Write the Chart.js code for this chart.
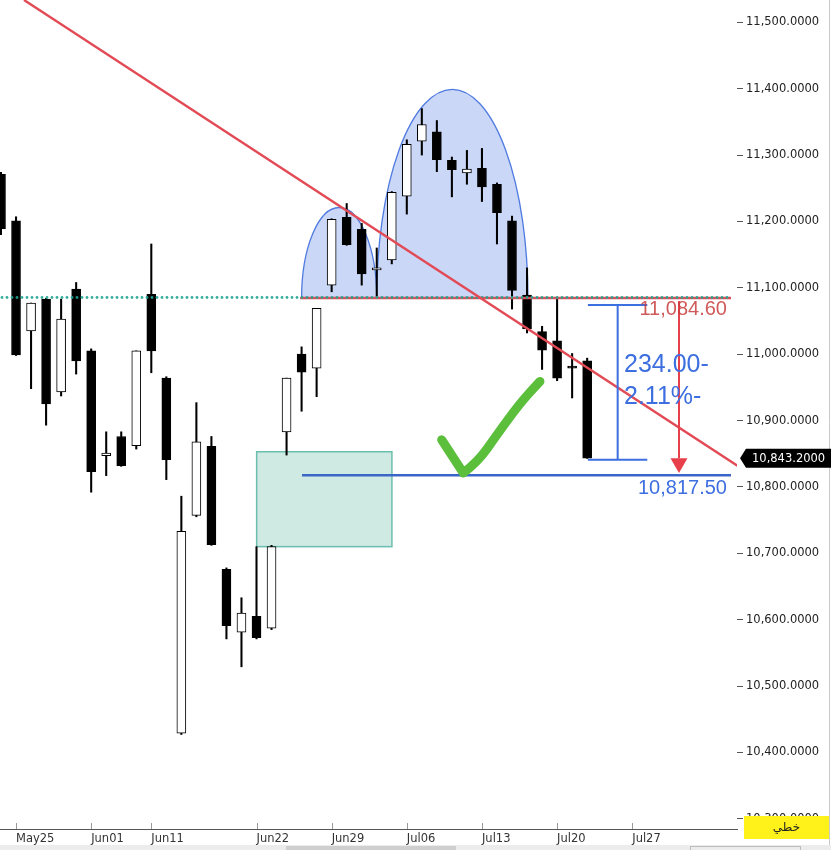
<!DOCTYPE html>
<html><head><meta charset="utf-8">
<script src="https://cdn.jsdelivr.net/npm/chart.js@4"></script>
<style>html,body{margin:0;padding:0;background:#fff;}canvas{display:block;}</style>
</head><body>
<canvas id="c" width="831" height="850"></canvas>
<script>
// ---------- data ----------
const dates = ['May22','May25','May26','May27','May28','May29','Jun01','Jun02','Jun03','Jun04','Jun11','Jun12','Jun15','Jun16','Jun17','Jun18','Jun19','Jun22','Jun23','Jun24','Jun25','Jun26','Jun29','Jun30','Jul01','Jul02','Jul03','Jul06','Jul07','Jul08','Jul09','Jul10','Jul13','Jul14','Jul15','Jul16','Jul17','Jul20','Jul21','Jul22'];
const futureDates = ['Jul23','Jul24','Jul27','Jul28','Jul29','Jul30','Jul31','Aug03','Aug04','Aug05'];
const opens  = [11271,11201,11035,11083,10943,11098,11005,10847,10876,10862,11090,10964,10429,10757,10861,10676,10581,10605,10587,10883,11000,10979,11104,11206,11188,11127,11142,11238,11321,11335,11292,11273,11280,11256,11201,11089,11034,11020,10982,10990];
const highs  = [11274,11207,11077,11084,11083,11108,11008,10883,10883,11005,11166,10966,10786,10927,10876,10678,10633,10710,10712,10964,11011,11069,11204,11227,11197,11160,11245,11323,11370,11352,11297,11307,11310,11258,11208,11130,11042,11084,11001,10994];
const lows   = [11180,10998,10948,10893,10937,10970,10792,10817,10831,10857,10972,10811,10427,10755,10712,10571,10529,10571,10585,10848,10914,10936,11094,11164,11104,11084,11136,11211,11300,11275,11237,11256,11230,11166,11068,11032,10977,10960,10934,10843];
const closes = [11189,10999,11077,10925,11053,10990,10823,10851,10832,11005,11005,10841,10733,10868,10713,10591,10610,10573,10710,10964,10973,11069,11203,11165,11121,11130,11244,11316,11346,11293,11278,11279,11252,11213,11096,11038,11006,10964,10979,10843.2];
const axisLabels = ['May25','Jun01','Jun11','Jun22','Jun29','Jul06','Jul13','Jul20','Jul27'];
const yTicks = [10300,10400,10500,10600,10700,10800,10900,11000,11100,11200,11300,11400,11500];

// annotation values (data space)
const resistance = 11084.6;
const target = 10817.5;
const trendLine = [[1.53, 11533.6], [49.0, 10832]];
const smallDome = [20.0, 25.0, 11221];
const bigDome = [25.0, 35.06, 11399];
const zoneBox = [17.01, 26.01, 10853, 10710];
const lineStartRes = 19.9, lineStartTarget = 20.03, lineEnd = 48.57;
const bracket = [39.05, 43.0, 41.03, 11074, 10841];
const measureDiff = 234.00, measurePct = 2.11;
const measureText = [41.45, 10984, 10936];
const arrow = [45.11, 11080, 10843, 10821];
const labelRight = 48.3;
const checkMark = [[29.32,10871],[30.76,10821],[31.74,10838],[32.98,10878],[34.53,10926],[35.86,10959]];

// ---------- helpers ----------
const allDates = dates.concat(futureDates);
const tickIdx = axisLabels.map(l => allDates.indexOf(l));
function fmtNum(v, d) { const p = v.toFixed(d).split('.'); return p[0].replace(/\B(?=(\d{3})+$)/g, ',') + (p[1] ? '.' + p[1] : ''); }

const bodyData = dates.map((d, i) => ({x: i, y: [opens[i], closes[i]]}));
const wickData = dates.map((d, i) => ({x: i, y: [lows[i], highs[i]]}));
const bodyColors = dates.map((d, i) => closes[i] >= opens[i] ? '#ffffff' : '#000000');

const FONT = 'DejaVu Sans';

const annot = {
  id: 'annot',
  beforeDatasetsDraw(chart) {
    const ctx = chart.ctx, xs = chart.scales.x, ys = chart.scales.y;
    const X = v => xs.getPixelForValue(v), Y = v => ys.getPixelForValue(v);
    const ca = chart.chartArea;
    ctx.save();
    ctx.beginPath(); ctx.rect(ca.left, ca.top, ca.right - ca.left, ca.bottom - ca.top); ctx.clip();
    // zone box
    const bx0 = X(zoneBox[0]), bx1 = X(zoneBox[1]), by0 = Y(zoneBox[2]), by1 = Y(zoneBox[3]);
    ctx.fillStyle = '#cfe9e3';
    ctx.fillRect(bx0, by0, bx1 - bx0, by1 - by0);
    ctx.strokeStyle = '#6cbfae'; ctx.lineWidth = 1.5;
    ctx.strokeRect(bx0, by0, bx1 - bx0, by1 - by0);
    // domes
    const base = Y(resistance);
    [smallDome, bigDome].forEach(d => {
      const l = X(d[0]), r = X(d[1]);
      const cx = (l + r) / 2, rx = (r - l) / 2, ry = base - Y(d[2]);
      ctx.beginPath();
      ctx.ellipse(cx, base, rx, ry, 0, Math.PI, 2 * Math.PI);
      ctx.closePath();
      ctx.fillStyle = '#cad7f7'; ctx.fill();
      ctx.beginPath();
      ctx.ellipse(cx, base, rx, ry, 0, Math.PI, 2 * Math.PI);
      ctx.strokeStyle = '#4f7be0'; ctx.lineWidth = 1.3; ctx.stroke();
    });
    ctx.restore();
  },
  afterDatasetsDraw(chart) {
    const ctx = chart.ctx, xs = chart.scales.x, ys = chart.scales.y;
    const X = v => xs.getPixelForValue(v), Y = v => ys.getPixelForValue(v);
    const ca = chart.chartArea;
    ctx.save();
    ctx.beginPath(); ctx.rect(ca.left, ca.top, ca.right - ca.left, ca.bottom - ca.top); ctx.clip();
    // red resistance line
    const ry = Y(resistance);
    ctx.strokeStyle = '#e24a55'; ctx.lineWidth = 2.5;
    ctx.beginPath(); ctx.moveTo(X(lineStartRes), ry); ctx.lineTo(X(lineEnd), ry); ctx.stroke();
    // teal dotted line
    ctx.fillStyle = 'rgba(35,165,145,0.9)';
    for (let x = X(xs.min) + 2; x < X(lineEnd); x += 5) {
      ctx.beginPath(); ctx.arc(x, ry - 0.5, 1.4, 0, Math.PI * 2); ctx.fill();
    }
    // blue target line
    const ty = Y(target);
    ctx.strokeStyle = '#3a66c8'; ctx.lineWidth = 2.5;
    ctx.beginPath(); ctx.moveTo(X(lineStartTarget), ty); ctx.lineTo(X(lineEnd), ty); ctx.stroke();
    // trend line
    ctx.strokeStyle = '#e24a55'; ctx.lineWidth = 2.4;
    ctx.beginPath(); ctx.moveTo(X(trendLine[0][0]), Y(trendLine[0][1])); ctx.lineTo(X(trendLine[1][0]), Y(trendLine[1][1])); ctx.stroke();
    // measurement bracket
    ctx.strokeStyle = '#3d6fe0'; ctx.lineWidth = 2;
    const b0 = X(bracket[0]), b1 = X(bracket[1]), bm = X(bracket[2]), bt = Y(bracket[3]), bb = Y(bracket[4]);
    ctx.beginPath();
    ctx.moveTo(b0, bt); ctx.lineTo(b1, bt);
    ctx.moveTo(bm, bt); ctx.lineTo(bm, bb);
    ctx.moveTo(b0, bb); ctx.lineTo(b1, bb);
    ctx.stroke();
    // red arrow
    const ax = X(arrow[0]);
    ctx.strokeStyle = '#e8404a'; ctx.lineWidth = 2;
    ctx.beginPath(); ctx.moveTo(ax, Y(arrow[1])); ctx.lineTo(ax, Y(arrow[2])); ctx.stroke();
    ctx.fillStyle = '#e8404a';
    ctx.beginPath(); ctx.moveTo(ax - 8.5, Y(arrow[2])); ctx.lineTo(ax + 8.5, Y(arrow[2])); ctx.lineTo(ax, Y(arrow[3])); ctx.closePath(); ctx.fill();
    // texts
    ctx.font = '20px "Liberation Sans"';
    ctx.textAlign = 'right'; ctx.textBaseline = 'middle';
    ctx.fillStyle = 'rgba(200,60,60,0.85)';
    ctx.fillText(fmtNum(resistance, 2), X(labelRight), ry + 11);
    ctx.fillStyle = '#3d6fe0';
    ctx.fillText(fmtNum(target, 2), X(labelRight), ty + 13);
    ctx.font = '25px "Liberation Sans"';
    ctx.textAlign = 'left';
    ctx.fillStyle = '#3d6fe0';
    ctx.fillText(measureDiff.toFixed(2) + '-', X(measureText[0]), Y(measureText[1]));
    ctx.fillText(measurePct.toFixed(2) + '%-', X(measureText[0]), Y(measureText[2]));
    // green check mark
    ctx.strokeStyle = '#5cbf3c'; ctx.lineWidth = 9; ctx.lineCap = 'round'; ctx.lineJoin = 'round';
    const pts = checkMark.map(p => [X(p[0]), Y(p[1])]);
    ctx.beginPath(); ctx.moveTo(pts[0][0], pts[0][1]); ctx.lineTo(pts[1][0], pts[1][1]);
    for (let i = 2; i < pts.length - 1; i++) {
      const mx = (pts[i][0] + pts[i + 1][0]) / 2, my = (pts[i][1] + pts[i + 1][1]) / 2;
      ctx.quadraticCurveTo(pts[i][0], pts[i][1], mx, my);
    }
    ctx.lineTo(pts[pts.length - 1][0], pts[pts.length - 1][1]);
    ctx.stroke();
    ctx.restore();
  },
  afterDraw(chart) {
    const ctx = chart.ctx, xs = chart.scales.x, ys = chart.scales.y;
    const ca = chart.chartArea;
    ctx.save();
    // bottom band
    ctx.fillStyle = '#ececec'; ctx.fillRect(0, 845, chart.width, 5);
    ctx.fillStyle = '#cfcfcf'; ctx.fillRect(286, 846, 170, 4);
    ctx.strokeStyle = '#bdbdbd'; ctx.lineWidth = 1; ctx.strokeRect(690.5, 846.5, 110, 6);
    // x axis line and upward ticks
    ctx.strokeStyle = '#555'; ctx.lineWidth = 1;
    ctx.beginPath(); ctx.moveTo(0, Math.round(ca.bottom) + 0.5); ctx.lineTo(ca.right + 1, Math.round(ca.bottom) + 0.5); ctx.stroke();
    ctx.strokeStyle = '#999';
    tickIdx.forEach(i => {
      const x = Math.round(xs.getPixelForValue(i)) + 0.5;
      ctx.beginPath(); ctx.moveTo(x, ca.bottom - 6); ctx.lineTo(x, ca.bottom); ctx.stroke();
    });
    // right border
    ctx.strokeStyle = '#c8c8c8';
    ctx.beginPath(); ctx.moveTo(829.5, 0); ctx.lineTo(829.5, 845); ctx.stroke();
    // price tag
    const last = closes[closes.length - 1];
    const py = ys.getPixelForValue(last);
    const tx = ca.right + 3;
    ctx.fillStyle = '#000';
    ctx.beginPath();
    ctx.moveTo(tx, py); ctx.lineTo(tx + 6, py - 9.5); ctx.lineTo(831, py - 9.5); ctx.lineTo(831, py + 9.5); ctx.lineTo(tx + 6, py + 9.5); ctx.closePath(); ctx.fill();
    ctx.fillStyle = '#fff'; ctx.font = '11.5px "' + FONT + '"'; ctx.textAlign = 'left'; ctx.textBaseline = 'middle';
    ctx.fillText(fmtNum(last, 4), tx + 12, py + 0.5);
    // yellow label
    ctx.fillStyle = '#fff21a';
    ctx.fillRect(ca.right + 7, 816, 85, 23);
    ctx.fillStyle = '#222'; ctx.font = '12px "' + FONT + '"'; ctx.textAlign = 'center';
    ctx.fillText('خطي', ca.right + 7 + 42.5, 828);
    ctx.restore();
  }
};

new Chart(document.getElementById('c'), {
  type: 'bar',
  data: {
    datasets: [
      { label: 'body', data: bodyData, backgroundColor: bodyColors, borderColor: '#000', borderWidth: 1, borderSkipped: false, barThickness: 9, grouped: false, order: 0 },
      { label: 'wick', data: wickData, backgroundColor: '#000', borderWidth: 0, barThickness: 1.4, grouped: false, order: 1 }
    ]
  },
  options: {
    responsive: false, animation: false, devicePixelRatio: 1,
    layout: { padding: 0 },
    plugins: { legend: { display: false }, tooltip: { enabled: false } },
    scales: {
      x: {
        type: 'linear', min: -0.0665, max: 48.97, offset: false,
        afterBuildTicks: s => { s.ticks = tickIdx.map(v => ({ value: v })); },
        afterFit: s => { s.height = 21; s.paddingLeft = 0; s.paddingRight = 0; },
        grid: { display: false, drawTicks: false },
        border: { display: false },
        ticks: { align: 'start', padding: 3, autoSkip: false, maxRotation: 0, color: '#333', font: { family: FONT, size: 11.5 },
          callback: v => axisLabels[tickIdx.indexOf(v)] }
      },
      y: {
        type: 'linear', position: 'right', min: 10284.6, max: 11533.6,
        afterBuildTicks: s => { s.ticks = yTicks.map(v => ({ value: v })); },
        afterFit: s => { s.width = 94; s.paddingTop = 0; s.paddingBottom = 0; },
        grid: { drawOnChartArea: false, drawTicks: true, tickLength: 6, color: '#555', tickColor: '#555' },
        border: { display: false },
        ticks: { padding: 3, autoSkip: false, color: '#222', font: { family: FONT, size: 11.5 }, callback: v => fmtNum(v, 4) }
      }
    }
  },
  plugins: [annot]
});
</script>
</body></html>
